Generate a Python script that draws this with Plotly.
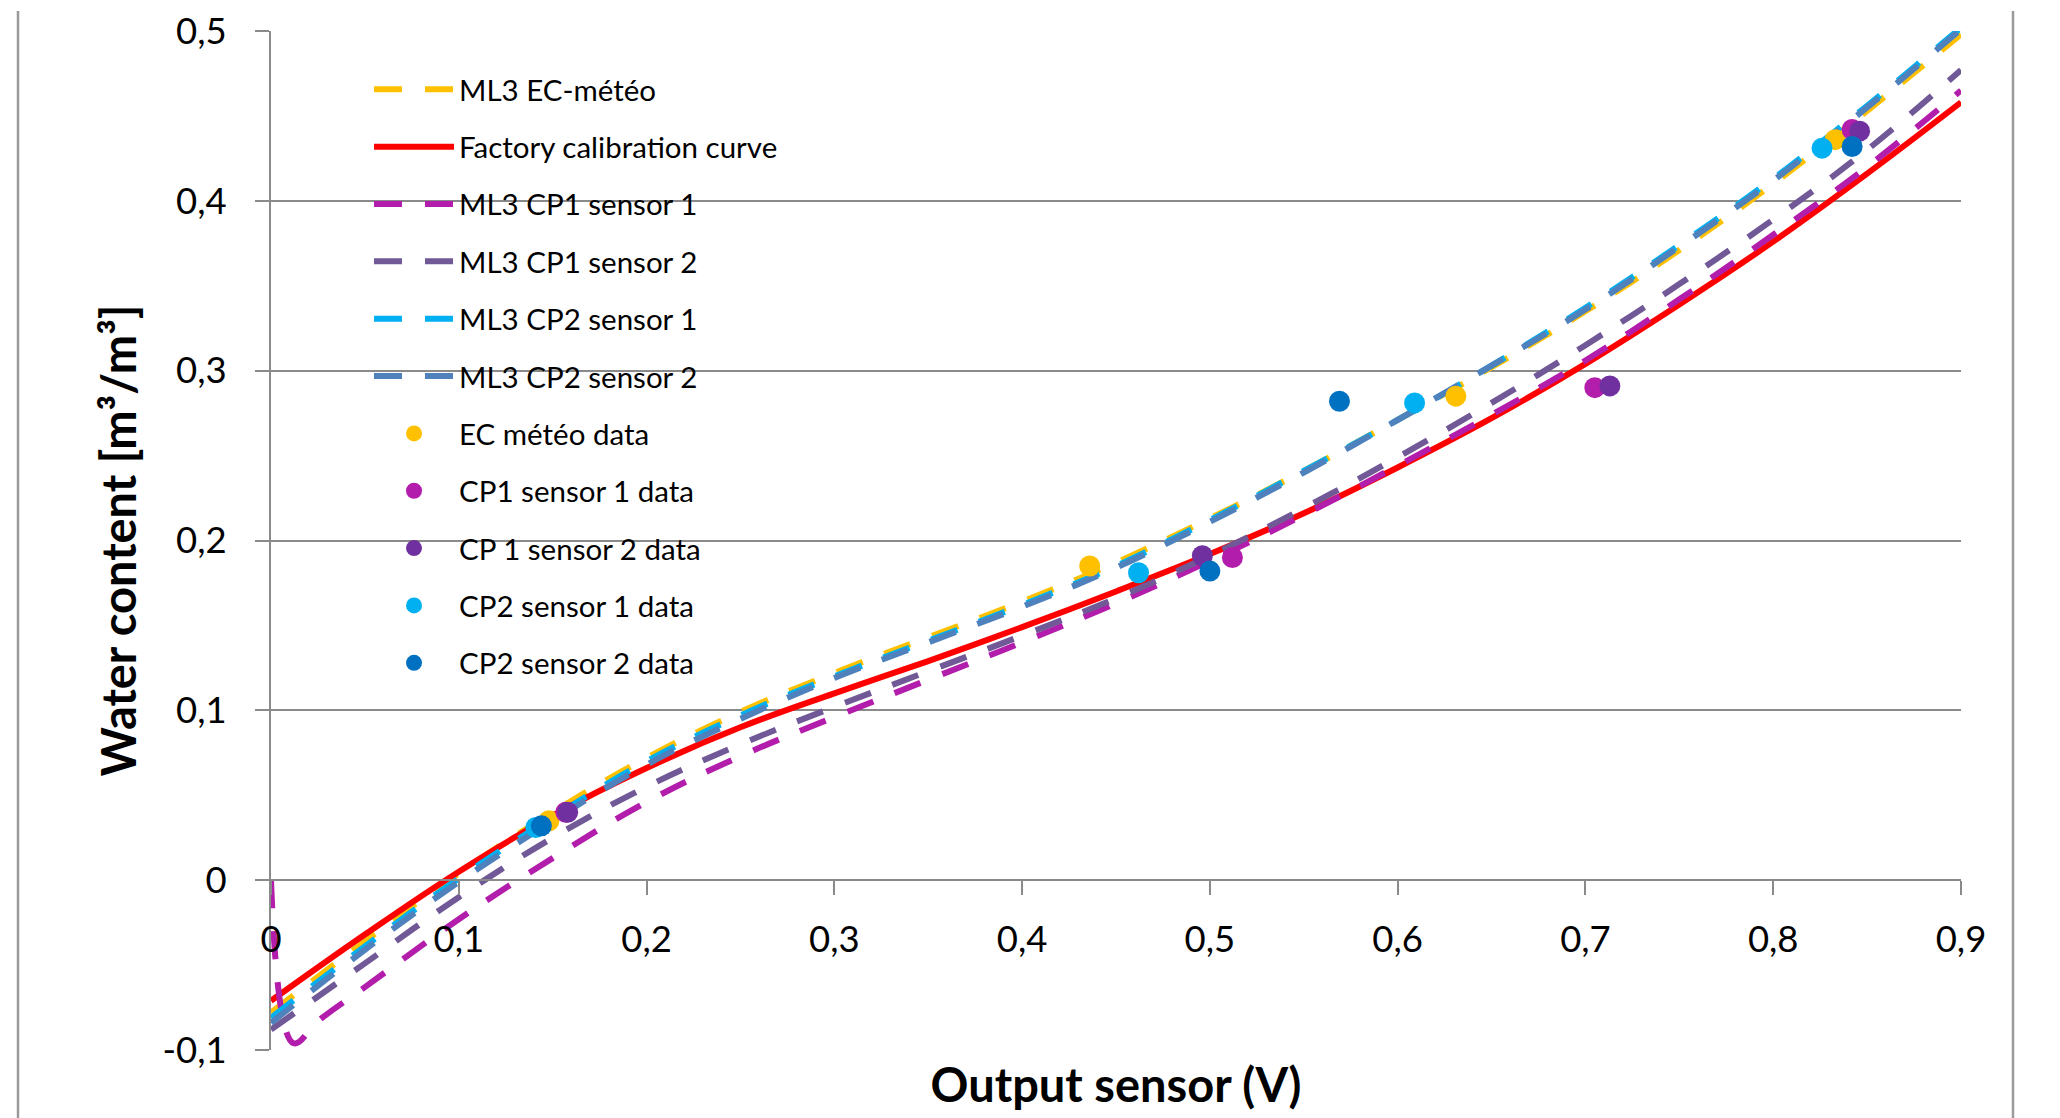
import plotly.graph_objects as go

# ---------------- data ----------------
x_curve = [0.0, 0.05, 0.10, 0.15, 0.20, 0.25, 0.30, 0.35, 0.40, 0.45,
           0.50, 0.55, 0.60, 0.65, 0.70, 0.75, 0.80, 0.85, 0.90]

ml3_ec_meteo = [-0.078, -0.036, 0.004, 0.040, 0.072, 0.099, 0.122, 0.143, 0.164, 0.187,
                0.213, 0.241, 0.271, 0.302, 0.335, 0.371, 0.410, 0.453, 0.498]
factory_curve = [-0.071, -0.032, 0.005, 0.038, 0.066, 0.090, 0.110, 0.129, 0.149, 0.170,
                 0.192, 0.216, 0.243, 0.272, 0.304, 0.339, 0.376, 0.416, 0.458]
cp1_s1_x = [0.0, 0.012, 0.025, 0.05, 0.10, 0.15, 0.20, 0.25, 0.30, 0.35, 0.40, 0.45,
            0.50, 0.55, 0.60, 0.65, 0.70, 0.75, 0.80, 0.85, 0.90]
ml3_cp1_s1 = [0.0, -0.096, -0.083, -0.063, -0.023, 0.013, 0.046, 0.073, 0.096, 0.118, 0.140, 0.163,
              0.188, 0.215, 0.244, 0.274, 0.306, 0.342, 0.380, 0.420, 0.465]
ml3_cp1_s2 = [-0.088, -0.049, -0.010, 0.025, 0.055, 0.080, 0.102, 0.123, 0.144, 0.166,
              0.191, 0.219, 0.249, 0.281, 0.315, 0.351, 0.389, 0.430, 0.477]
ml3_cp2_s1 = [-0.081, -0.039, 0.001, 0.037, 0.070, 0.097, 0.120, 0.141, 0.162, 0.185,
              0.212, 0.241, 0.271, 0.303, 0.337, 0.374, 0.413, 0.456, 0.502]
ml3_cp2_s2 = [-0.084, -0.041, -0.001, 0.035, 0.068, 0.095, 0.119, 0.140, 0.161, 0.184,
              0.211, 0.240, 0.271, 0.303, 0.336, 0.373, 0.412, 0.455, 0.501]

ec_data_x = [0.148, 0.436, 0.631, 0.833]
ec_data_y = [0.035, 0.185, 0.285, 0.436]
cp1_s1_data_x = [0.157, 0.512, 0.705, 0.842]
cp1_s1_data_y = [0.040, 0.190, 0.290, 0.442]
cp1_s2_data_x = [0.158, 0.496, 0.713, 0.846]
cp1_s2_data_y = [0.040, 0.191, 0.291, 0.441]
cp2_s1_data_x = [0.141, 0.462, 0.609, 0.826]
cp2_s1_data_y = [0.031, 0.181, 0.281, 0.431]
cp2_s2_data_x = [0.144, 0.500, 0.569, 0.842]
cp2_s2_data_y = [0.032, 0.182, 0.282, 0.432]

x_tick_vals = [0, 0.1, 0.2, 0.3, 0.4, 0.5, 0.6, 0.7, 0.8, 0.9]
x_tick_text = ["0", "0,1", "0,2", "0,3", "0,4", "0,5", "0,6", "0,7", "0,8", "0,9"]
y_tick_vals = [-0.1, 0, 0.1, 0.2, 0.3, 0.4, 0.5]
y_tick_text = ["-0,1", "0", "0,1", "0,2", "0,3", "0,4", "0,5"]

# ---------------- styles ----------------
FONT = "Lato"
GRID = "#8a8a8a"
DASH = "28px,23px"
LW = 6
MS = 21
TICK_SIZE = 36.5

fig = go.Figure()

def add_line(x, y, name, color, dash, width=LW):
    fig.add_trace(go.Scatter(
        x=x, y=y, mode="lines", name=name, legendgroup=name,
        line=dict(color=color, width=width, dash=dash, shape="spline", smoothing=1.1)))

def add_pts(x, y, name, color):
    fig.add_trace(go.Scatter(
        x=x, y=y, mode="markers", name=name, legendgroup=name,
        marker=dict(color=color, size=MS, line=dict(width=0))))

add_line(x_curve, ml3_ec_meteo, "ML3 EC-météo", "#FFC000", DASH)
add_line(x_curve, factory_curve, "Factory calibration curve", "#FF0000", "solid", 6)
add_line(cp1_s1_x, ml3_cp1_s1, "ML3 CP1 sensor 1", "#B31DAB", DASH)
add_line(x_curve, ml3_cp1_s2, "ML3 CP1 sensor 2", "#715896", DASH)
add_line(x_curve, ml3_cp2_s1, "ML3 CP2 sensor 1", "#00B0F0", DASH)
add_line(x_curve, ml3_cp2_s2, "ML3 CP2 sensor 2", "#4F81BD", DASH)

add_pts(ec_data_x, ec_data_y, "EC météo data", "#FFC000")
add_pts(cp1_s1_data_x, cp1_s1_data_y, "CP1 sensor 1 data", "#B31DAB")
add_pts(cp1_s2_data_x, cp1_s2_data_y, "CP 1 sensor 2 data", "#7030A0")
add_pts(cp2_s1_data_x, cp2_s1_data_y, "CP2 sensor 1 data", "#00B0F0")
add_pts(cp2_s2_data_x, cp2_s2_data_y, "CP2 sensor 2 data", "#0070C0")

# page body has an 8px margin: compensate so the plot lands where the reference has it
OFF = 8
W, H = 2060, 1118
PL, PT, PW, PH = 271, 31, 1690, 1019   # target plot box on screen (integer pixels)
L = PL - OFF
T = PT - OFF
R = W - L - PW
B = H - T - PH

fig.update_layout(
    width=W, height=H,
    margin=dict(l=L, r=R, t=T, b=B, autoexpand=False),
    paper_bgcolor="white", plot_bgcolor="white",
    font=dict(family=FONT, color="black", size=29.5),
    showlegend=True,
    legend=dict(
        x=0.058, y=0.968, xanchor="left", yanchor="top",
        bgcolor="rgba(0,0,0,0)", borderwidth=0,
        font=dict(family=FONT, size=29.5, color="black"),
        traceorder="grouped", tracegroupgap=16, itemwidth=80,
    ),
    xaxis=dict(
        range=[0, 0.9], anchor="free", position=1/6, automargin=False,
        tickvals=x_tick_vals, ticktext=x_tick_text,
        tickfont=dict(family=FONT, size=TICK_SIZE, color="black"),
        ticks="outside", ticklen=14, tickwidth=2, tickcolor=GRID,
        showline=True, linecolor=GRID, linewidth=2,
        showgrid=False, zeroline=False, ticklabelstandoff=13,
        ticklabeloverflow="allow",
        title=dict(text="<b>Output sensor (V)</b>", standoff=109,
                   font=dict(family=FONT, size=47, color="black")),
    ),
    yaxis=dict(
        range=[-0.1, 0.5], automargin=False,
        tickvals=y_tick_vals, ticktext=y_tick_text,
        tickfont=dict(family=FONT, size=TICK_SIZE, color="black"),
        ticks="outside", ticklen=14, tickwidth=2, tickcolor=GRID,
        showline=True, linecolor=GRID, linewidth=2,
        showgrid=True, gridcolor=GRID, gridwidth=2,
        zeroline=False, ticklabelstandoff=21, ticklabeloverflow="allow",
        title=dict(text="<b>Water content [m³/m³]</b>", standoff=11,
                   font=dict(family=FONT, size=47, color="black")),
    ),
)

# outer frame side borders of the chart area (screen x = 18 and 2013, from y = 11 down)
for sx in (18, 2013):
    xp = (sx - PL) / PW
    fig.add_shape(type="line", xref="paper", yref="paper",
                  x0=xp, x1=xp,
                  y0=(PT + PH - 11) / PH, y1=(PT + PH - H) / PH,
                  line=dict(color="#9a9a9a", width=2.5))

fig.write_html("out.html")
